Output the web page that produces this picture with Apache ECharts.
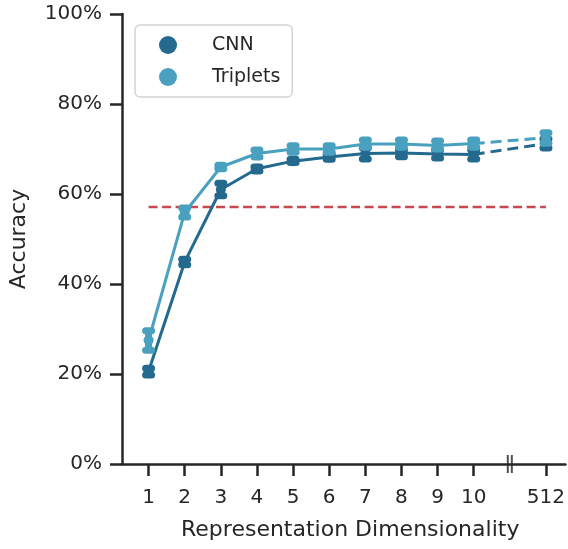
<!DOCTYPE html>
<html>
<head>
    <meta charset="UTF-8">
    <title>Accuracy vs Representation Dimensionality</title>
    <script src="https://cdn.jsdelivr.net/npm/echarts@6/dist/echarts.min.js"></script>
    <style>
        html, body { margin: 0; padding: 0; background: #fff; }
        #main { width: 568px; height: 549px; }
    </style>
</head>
<body>
<div id="main"></div>
<script>
    // dimensions shown on the x axis (512 sits after an axis break)
    var dims = ['1', '2', '3', '4', '5', '6', '7', '8', '9', '10', '512'];
    var dimPos = [1, 2, 3, 4, 5, 6, 7, 8, 9, 10, 12];
    var breakPos = 11;

    // accuracy in %
    var cnnMean = [20.6, 44.9, 61.0, 65.6, 67.3, 68.2, 69.0, 69.1, 68.9, 68.8, 71.2];
    var cnnLow  = [19.8, 44.3, 59.6, 65.1, 67.0, 67.7, 67.8, 68.3, 68.0, 67.8, 70.2];
    var cnnHigh = [21.3, 45.5, 62.4, 66.0, 67.7, 68.8, 70.2, 69.8, 69.8, 69.8, 72.2];

    var triMean = [27.5, 55.9, 66.0, 69.0, 70.0, 70.0, 71.1, 71.1, 70.8, 71.2, 72.5];
    var triLow  = [25.3, 54.9, 65.6, 68.2, 69.3, 69.3, 70.4, 70.4, 70.0, 70.4, 71.3];
    var triHigh = [29.6, 56.9, 66.4, 69.8, 70.7, 70.7, 72.0, 72.0, 71.8, 72.0, 73.6];

    var baseline = 57.1;

    var cnnColor = '#246a8f';
    var triColor = '#49a1bf';
    var redColor = '#c9484f';
    var ink = '#262626';

    function pts(mean, from, to) {
        var out = [];
        for (var i = from; i < to; i++) out.push([dimPos[i], mean[i]]);
        return out;
    }
    function errs(low, high) {
        return dimPos.map(function (p, i) { return [p, low[i], high[i]]; });
    }
    function errRender(color) {
        return function (params, api) {
            var lo = api.coord([api.value(0), api.value(1)]);
            var hi = api.coord([api.value(0), api.value(2)]);
            var st = { stroke: color, lineWidth: 7, lineCap: 'round' };
            return {
                type: 'group',
                children: [
                    { type: 'line', shape: { x1: lo[0], y1: lo[1], x2: hi[0], y2: hi[1] }, style: { stroke: color, lineWidth: 7 } },
                    { type: 'line', shape: { x1: lo[0] - 3, y1: lo[1], x2: lo[0] + 3, y2: lo[1] }, style: st },
                    { type: 'line', shape: { x1: hi[0] - 3, y1: hi[1], x2: hi[0] + 3, y2: hi[1] }, style: st }
                ]
            };
        };
    }
    var n = dims.length;

    var chart = echarts.init(document.getElementById('main'));
    chart.setOption({
        animation: false,
        textStyle: { fontFamily: 'DejaVu Sans', color: ink },
        grid: { left: 121.5, right: 0, top: 14, bottom: 85 },
        legend: {
            data: ['CNN', 'Triplets'],
            orient: 'vertical',
            left: 135, top: 25,
            padding: [9, 12, 9, 24],
            itemGap: 10,
            itemWidth: 18, itemHeight: 18,
            icon: 'circle',
            borderColor: '#d4d4d4', borderWidth: 1.5, borderRadius: 5,
            backgroundColor: '#fff',
            textStyle: { fontSize: 19, color: ink, lineHeight: 22, padding: [0, 0, 0, 30] }
        },
        xAxis: {
            type: 'value',
            min: 0.264, max: 12.54,
            name: 'Representation Dimensionality',
            nameLocation: 'middle', nameGap: 55,
            nameTextStyle: { fontSize: 22, color: ink, padding: [0, 0, 0, 13] },
            axisLine: { lineStyle: { color: ink, width: 2.5 } },
            axisTick: { length: 12, lineStyle: { color: ink, width: 2.5 }, customValues: dimPos },
            axisLabel: {
                fontSize: 20, color: ink, margin: 24, customValues: dimPos,
                formatter: function (v) { return dims[dimPos.indexOf(v)]; }
            },
            splitLine: { show: false }
        },
        yAxis: {
            type: 'value',
            min: 0, max: 100, interval: 20,
            name: 'Accuracy',
            nameLocation: 'middle', nameGap: 92,
            nameTextStyle: { fontSize: 22, color: ink },
            axisLine: { show: true, lineStyle: { color: ink, width: 2.5 } },
            axisTick: { show: true, length: 12, lineStyle: { color: ink, width: 2.5 } },
            axisLabel: { fontSize: 20, color: ink, margin: 20, formatter: '{value}%' },
            splitLine: { show: false }
        },
        series: [
            {
                name: 'baseline', type: 'line', z: 1, silent: true,
                data: [[dimPos[0], baseline], [dimPos[n - 1], baseline]],
                symbol: 'none',
                lineStyle: { color: redColor, width: 2.5, type: [9, 4.5] }
            },
            {
                name: 'CNN err', type: 'custom', z: 2,
                renderItem: errRender(cnnColor),
                encode: { x: 0, y: [1, 2] },
                data: errs(cnnLow, cnnHigh)
            },
            {
                name: 'CNN', type: 'line', z: 3,
                data: pts(cnnMean, 0, n - 1),
                symbol: 'circle', symbolSize: 10,
                itemStyle: { color: cnnColor },
                lineStyle: { color: cnnColor, width: 3 }
            },
            {
                name: 'CNN 512', type: 'line', z: 3,
                data: pts(cnnMean, n - 2, n),
                symbol: 'circle', symbolSize: 10,
                itemStyle: { color: cnnColor },
                lineStyle: { color: cnnColor, width: 3, type: [11, 6] }
            },
            {
                name: 'Triplets err', type: 'custom', z: 4,
                renderItem: errRender(triColor),
                encode: { x: 0, y: [1, 2] },
                data: errs(triLow, triHigh)
            },
            {
                name: 'Triplets', type: 'line', z: 5,
                data: pts(triMean, 0, n - 1),
                symbol: 'circle', symbolSize: 10,
                itemStyle: { color: triColor },
                lineStyle: { color: triColor, width: 3 }
            },
            {
                name: 'Triplets 512', type: 'line', z: 5,
                data: pts(triMean, n - 2, n),
                symbol: 'circle', symbolSize: 10,
                itemStyle: { color: triColor },
                lineStyle: { color: triColor, width: 3, type: [11, 6] }
            },
            {
                name: 'axis break', type: 'scatter', z: 10, silent: true, clip: false,
                data: [[breakPos, 0]],
                symbol: 'path://M0,0h2v18h-2zM4,0h2v18h-2z',
                symbolSize: [6, 18],
                itemStyle: { color: ink }
            }
        ]
    });
</script>
</body>
</html>
